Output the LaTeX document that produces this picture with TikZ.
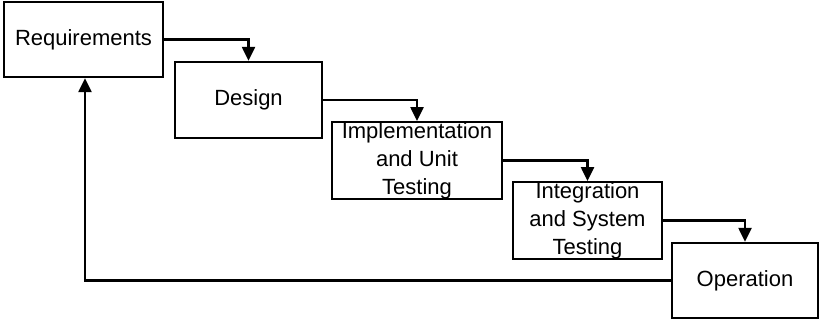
\documentclass[tikz,border=0pt]{standalone}
\usepackage{fontspec}
\setmainfont{Liberation Sans}
\usepackage{tikz}
\usetikzlibrary{arrows.meta}
\usetikzlibrary{positioning}

\begin{document}
\begin{tikzpicture}[x=0.5pt, y=-0.5pt,
		phase/.style={rectangle, draw, line width=1.2pt, inner sep=0pt, align=center,
			font=\fontsize{11}{14}\selectfont, minimum height=37.5pt},
		flow/.style={line width=1.2pt, -{Triangle[length=7pt, width=6.5pt]}}]
				\useasboundingbox (0,0) rectangle (820,320);
				\node[phase, minimum width=79.5pt] (R) at (83.5,39.5) {Requirements};
				\node[phase, minimum width=73.5pt, minimum height=38pt] (D) at (248.5,100) {Design};
				\node[phase, minimum width=85pt] (I) at (417,160.5) {Implementation\\and Unit\\Testing};
				\node[phase, minimum width=74.5pt] (S) at (587.5,220.5) {Integration\\and System\\Testing};
				\node[phase, minimum width=73pt] (O) at (745,280.5) {Operation};
				
				\draw[flow] (R.east) -| (D.north);
				\draw[flow] (D.east) -| (I.north);
				\draw[flow] (I.east) -| (S.north);
				\draw[flow] (S.east) -| (O.north);
				\draw[flow] (O.west) -| ([xshift=0.75pt]R.south);
\end{tikzpicture}
\end{document}
